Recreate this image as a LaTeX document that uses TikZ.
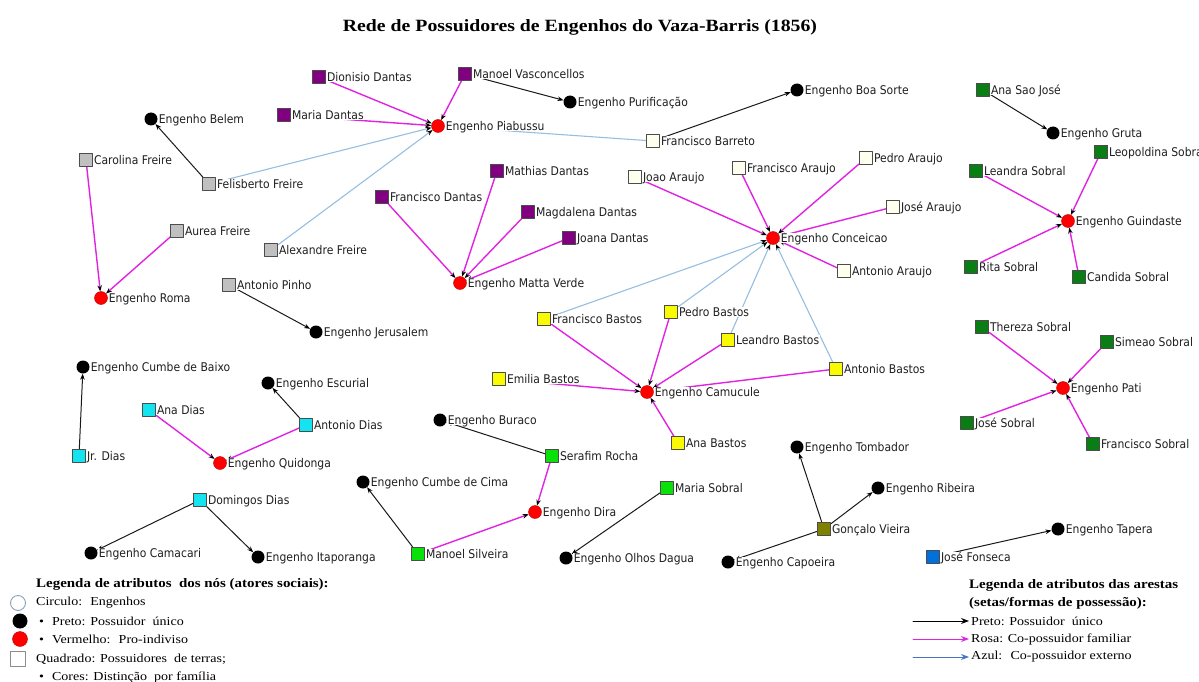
\documentclass[tikz,border=0pt]{standalone}
\usepackage{fontspec}
\setmainfont{Liberation Serif}
\newfontfamily\rotulofont[FakeStretch=0.9]{DejaVu Sans}
\newfontfamily\legendafont[FakeStretch=1.15]{Liberation Serif}
\usetikzlibrary{arrows.meta}
\pgfdeclarelayer{fundo}
\pgfsetlayers{fundo,main}

\definecolor{roxo}{RGB}{128,0,128}
\definecolor{cinza}{RGB}{192,192,192}
\definecolor{marfim}{RGB}{255,255,238}
\definecolor{amarelo}{RGB}{250,250,0}
\definecolor{verdeesc}{RGB}{10,125,20}
\definecolor{ciano}{RGB}{20,228,240}
\definecolor{verdelim}{RGB}{10,225,10}
\definecolor{oliva}{RGB}{128,128,0}
\definecolor{azulfons}{RGB}{0,112,220}
\definecolor{rosa}{RGB}{225,35,225}
\definecolor{azulclaro}{RGB}{150,190,225}
\definecolor{azulleg}{RGB}{70,115,195}
\definecolor{contorno}{RGB}{140,160,185}

\newcommand{\legnegrito}{\legendafont\bfseries\fontsize{13}{15}\selectfont}
\newcommand{\legnormal}{\legendafont\fontsize{12.2}{14}\selectfont}

\tikzset{
  eng/.style={circle,fill=black,minimum size=13pt,inner sep=0pt},
  indiv/.style={circle,fill=red,draw=red!75!black,line width=0.4pt,minimum size=13pt,inner sep=0pt},
  dono/.style={rectangle,draw=black!70,line width=0.6pt,minimum size=13pt,inner sep=0pt},
  fdantas/.style={dono,fill=roxo},
  ffreire/.style={dono,fill=cinza},
  faraujo/.style={dono,fill=marfim},
  fbastos/.style={dono,fill=amarelo},
  fsobral/.style={dono,fill=verdeesc},
  fdias/.style={dono,fill=ciano},
  fverde/.style={dono,fill=verdelim},
  nome/.style={fill=white,inner xsep=1pt,inner ysep=0.5pt,text depth=0pt,text=black!88,
    font=\rotulofont\fontsize{12}{14}\selectfont},
  posse/.style={->,draw=black!90,line width=1pt},
  fam/.style={->,draw=rosa,line width=1.4pt},
  ext/.style={->,draw=azulclaro,line width=1.1pt},
  leg/.style={anchor=west,inner sep=0pt,font=\legnormal},
}

\begin{document}
\begin{tikzpicture}[x=1pt,y=-1pt,>={Stealth[length=6pt,width=4.5pt,color=black]},line join=round,line cap=round]
	\useasboundingbox (0,0) rectangle (1199,682);
	\node[font=\legendafont\bfseries\fontsize{17.2}{20}\selectfont] (titulo) at (580,27) {Rede de Possuidores de Engenhos do Vaza-Barris (1856)};
	% engenhos
	\node[eng,label={[nome]right:Engenho Belem}] (belem) at (151,119) {};
	\node[indiv,label={[nome]right:Engenho Roma}] (roma) at (101,298) {};
	\node[eng,label={[nome]right:Engenho Jerusalem}] (jerus) at (316,332) {};
	\node[indiv,label={[nome]right:Engenho Piabussu}] (piab) at (438,126) {};
	\node[eng,label={[nome]right:Engenho Purificação}] (purif) at (570,102) {};
	\node[indiv,label={[nome]right:Engenho Matta Verde}] (matta) at (460,283) {};
	\node[eng,label={[nome]right:Engenho Boa Sorte}] (boasorte) at (797,90) {};
	\node[indiv,label={[nome]right:Engenho Conceicao}] (conc) at (773,238) {};
	\node[eng,label={[nome]right:Engenho Gruta}] (gruta) at (1053,133) {};
	\node[indiv,label={[nome]right:Engenho Guindaste}] (guind) at (1068,221) {};
	\node[indiv,label={[nome]right:Engenho Pati}] (pati) at (1063,388) {};
	\node[indiv,label={[nome]right:Engenho Camucule}] (camuc) at (647,392) {};
	\node[eng,label={[nome]right:Engenho Cumbe de Baixo}] (cbaixo) at (83,367) {};
	\node[eng,label={[nome]right:Engenho Escurial}] (escur) at (268,383) {};
	\node[indiv,label={[nome]right:Engenho Quidonga}] (quid) at (220,463) {};
	\node[eng,label={[nome]right:Engenho Camacari}] (camac) at (91,553) {};
	\node[eng,label={[nome]right:Engenho Itaporanga}] (itap) at (258,557) {};
	\node[eng,label={[nome]right:Engenho Buraco}] (buraco) at (440,420) {};
	\node[eng,label={[nome]right:Engenho Cumbe de Cima}] (ccima) at (363,482) {};
	\node[indiv,label={[nome]right:Engenho Dira}] (dira) at (535,512) {};
	\node[eng,label={[nome]right:Engenho Olhos Dagua}] (olhos) at (566,558) {};
	\node[eng,label={[nome]right:Engenho Tombador}] (tomb) at (797,447) {};
	\node[eng,label={[nome]right:Engenho Ribeira}] (ribeira) at (878,488) {};
	\node[eng,label={[nome]right:Engenho Capoeira}] (capo) at (728,562) {};
	\node[eng,label={[nome]right:Engenho Tapera}] (tapera) at (1058,529) {};
	% possuidores
	\node[fdantas,label={[nome]right:Dionisio Dantas}] (dionisio) at (319,77) {};
	\node[fdantas,label={[nome]right:Manoel Vasconcellos}] (manoelv) at (465,74) {};
	\node[fdantas,label={[nome]right:Maria Dantas}] (mariad) at (284,115) {};
	\node[fdantas,label={[nome]right:Mathias Dantas}] (mathias) at (497,171) {};
	\node[fdantas,label={[nome]right:Francisco Dantas}] (franciscod) at (382,197) {};
	\node[fdantas,label={[nome]right:Magdalena Dantas}] (magdalena) at (528,212) {};
	\node[fdantas,label={[nome]right:Joana Dantas}] (joana) at (569,238) {};
	\node[ffreire,label={[nome]right:Carolina Freire}] (carolina) at (86,160) {};
	\node[ffreire,label={[nome]right:Felisberto Freire}] (felisberto) at (209,184) {};
	\node[ffreire,label={[nome]right:Aurea Freire}] (aurea) at (177,231) {};
	\node[ffreire,label={[nome]right:Alexandre Freire}] (alexandre) at (271,250) {};
	\node[ffreire,label={[nome]right:Antonio Pinho}] (pinho) at (229,285) {};
	\node[faraujo,label={[nome]right:Francisco Barreto}] (barreto) at (653,141) {};
	\node[faraujo,label={[nome]right:Joao Araujo}] (joao) at (635,177) {};
	\node[faraujo,label={[nome]right:Francisco Araujo}] (franciscoa) at (739,168) {};
	\node[faraujo,label={[nome]right:Pedro Araujo}] (pedroa) at (866,158) {};
	\node[faraujo,label={[nome]right:José Araujo}] (josea) at (893,207) {};
	\node[faraujo,label={[nome]right:Antonio Araujo}] (antonioa) at (844,271) {};
	\node[fbastos,label={[nome]right:Francisco Bastos}] (franciscob) at (544,319) {};
	\node[fbastos,label={[nome]right:Pedro Bastos}] (pedrob) at (671,312) {};
	\node[fbastos,label={[nome]right:Leandro Bastos}] (leandrob) at (728,340) {};
	\node[fbastos,label={[nome]right:Emilia Bastos}] (emilia) at (499,379) {};
	\node[fbastos,label={[nome]right:Antonio Bastos}] (antoniob) at (836,369) {};
	\node[fbastos,label={[nome]right:Ana Bastos}] (anab) at (678,443) {};
	\node[fsobral,label={[nome]right:Ana Sao José}] (anasj) at (983,90) {};
	\node[fsobral,label={[nome]right:Leopoldina Sobral}] (leopoldina) at (1101,152) {};
	\node[fsobral,label={[nome]right:Leandra Sobral}] (leandra) at (976,171) {};
	\node[fsobral,label={[nome]right:Rita Sobral}] (rita) at (971,267) {};
	\node[fsobral,label={[nome]right:Candida Sobral}] (candida) at (1079,277) {};
	\node[fsobral,label={[nome]right:Thereza Sobral}] (thereza) at (982,327) {};
	\node[fsobral,label={[nome]right:Simeao Sobral}] (simeao) at (1107,342) {};
	\node[fsobral,label={[nome]right:José Sobral}] (joses) at (967,423) {};
	\node[fsobral,label={[nome]right:Francisco Sobral}] (franciscos) at (1093,444) {};
	\node[fdias,label={[nome]right:Ana Dias}] (anadias) at (149,410) {};
	\node[fdias,label={[nome]right:Antonio Dias}] (antoniod) at (306,425) {};
	\node[fdias,label={[nome]right:Jr. Dias}] (jrdias) at (79,456) {};
	\node[fdias,label={[nome]right:Domingos Dias}] (domingos) at (200,500) {};
	\node[fverde,label={[nome]right:Serafim Rocha}] (serafim) at (552,456) {};
	\node[fverde,label={[nome]right:Manoel Silveira}] (manoels) at (418,554) {};
	\node[fverde,label={[nome]right:Maria Sobral}] (marias) at (667,488) {};
	\node[dono,fill=oliva,label={[nome]right:Gonçalo Vieira}] (goncalo) at (824,529) {};
	\node[dono,fill=azulfons,label={[nome]right:José Fonseca}] (fonseca) at (933,557) {};
	% arestas
	\begin{pgfonlayer}{fundo}
	\draw[posse] (felisberto)--(belem);
	\draw[posse] (pinho)--(jerus);
	\draw[posse] (manoelv)--(purif);
	\draw[posse] (barreto)--(boasorte);
	\draw[posse] (anasj)--(gruta);
	\draw[posse] (jrdias)--(cbaixo);
	\draw[posse] (antoniod)--(escur);
	\draw[posse] (domingos)--(camac);
	\draw[posse] (domingos)--(itap);
	\draw[posse] (serafim)--(buraco);
	\draw[posse] (manoels)--(ccima);
	\draw[posse] (marias)--(olhos);
	\draw[posse] (goncalo)--(tomb);
	\draw[posse] (goncalo)--(ribeira);
	\draw[posse] (goncalo)--(capo);
	\draw[posse] (fonseca)--(tapera);
	\draw[fam] (dionisio)--(piab);
	\draw[fam] (mariad)--(piab);
	\draw[fam] (manoelv)--(piab);
	\draw[fam] (franciscod)--(matta);
	\draw[fam] (mathias)--(matta);
	\draw[fam] (magdalena)--(matta);
	\draw[fam] (joana)--(matta);
	\draw[fam] (carolina)--(roma);
	\draw[fam] (aurea)--(roma);
	\draw[fam] (joao)--(conc);
	\draw[fam] (franciscoa)--(conc);
	\draw[fam] (pedroa)--(conc);
	\draw[fam] (josea)--(conc);
	\draw[fam] (antonioa)--(conc);
	\draw[fam] (franciscob)--(camuc);
	\draw[fam] (pedrob)--(camuc);
	\draw[fam] (leandrob)--(camuc);
	\draw[fam] (emilia)--(camuc);
	\draw[fam] (antoniob)--(camuc);
	\draw[fam] (anab)--(camuc);
	\draw[fam] (leandra)--(guind);
	\draw[fam] (leopoldina)--(guind);
	\draw[fam] (rita)--(guind);
	\draw[fam] (candida)--(guind);
	\draw[fam] (thereza)--(pati);
	\draw[fam] (simeao)--(pati);
	\draw[fam] (joses)--(pati);
	\draw[fam] (franciscos)--(pati);
	\draw[fam] (anadias)--(quid);
	\draw[fam] (antoniod)--(quid);
	\draw[fam] (serafim)--(dira);
	\draw[fam] (manoels)--(dira);
	\draw[ext] (felisberto)--(piab);
	\draw[ext] (alexandre)--(piab);
	\draw[ext] (barreto)--(piab);
	\draw[ext] (franciscob)--(conc);
	\draw[ext] (pedrob)--(conc);
	\draw[ext] (leandrob)--(conc);
	\draw[ext] (antoniob)--(conc);
	\end{pgfonlayer}
	% legenda dos nos
	\node[anchor=west,inner sep=0pt,font=\legnegrito] (legnos) at (36,584) {Legenda de atributos~ dos nós (atores sociais):};
	\node[circle,draw=contorno,line width=0.9pt,fill=white,minimum size=15pt,inner sep=0pt] (lcirc) at (18,603) {};
	\node[leg] (tcirc) at (36,603) {Circulo:~ Engenhos};
	\node[circle,fill=black,minimum size=15pt,inner sep=0pt] (lpreto) at (20,621) {};
	\node[leg] (tpreto) at (39,621) {•\hspace{8pt}Preto: Possuidor~ único};
	\node[circle,fill=red,draw=red!75!black,minimum size=15pt,inner sep=0pt] (lverm) at (20,639) {};
	\node[leg] (tverm) at (39,639) {•\hspace{8pt}Vermelho:~ Pro-indiviso};
	\node[rectangle,draw=black!45,line width=0.8pt,minimum size=15pt,inner sep=0pt] (lquad) at (18,659) {};
	\node[leg] (tquad) at (36,659) {Quadrado: Possuidores~ de terras;};
	\node[leg] (tcores) at (39,677) {•\hspace{8pt}Cores: Distinção~ por família};
	% legenda das arestas
	\node[anchor=west,inner sep=0pt,font=\legnegrito] (legarestas) at (969,585) {Legenda de atributos das arestas};
	\node[anchor=west,inner sep=0pt,font=\legnegrito] (legsetas) at (969,603) {(setas/formas de possessão):};
	\coordinate (apreto) at (913,621);
	\coordinate (arosa) at (913,639);
	\coordinate (aazul) at (913,657);
	\node[leg] (tapreto) at (971,621) {Preto: Possuidor~ único};
	\node[leg] (tarosa) at (971,639) {Rosa: Co-possuidor familiar};
	\node[leg] (taazul) at (971,657) {Azul:~ Co-possuidor externo};
	\draw[black,line width=1pt,-{Stealth[length=8pt,width=6pt]},shorten >=2pt] (apreto)--(tapreto.west);
	\draw[rosa,line width=1pt,-{Stealth[length=8pt,width=6pt]},shorten >=2pt] (arosa)--(tarosa.west);
	\draw[azulleg,line width=1pt,-{Stealth[length=8pt,width=6pt]},shorten >=2pt] (aazul)--(taazul.west);
\end{tikzpicture}
\end{document}
